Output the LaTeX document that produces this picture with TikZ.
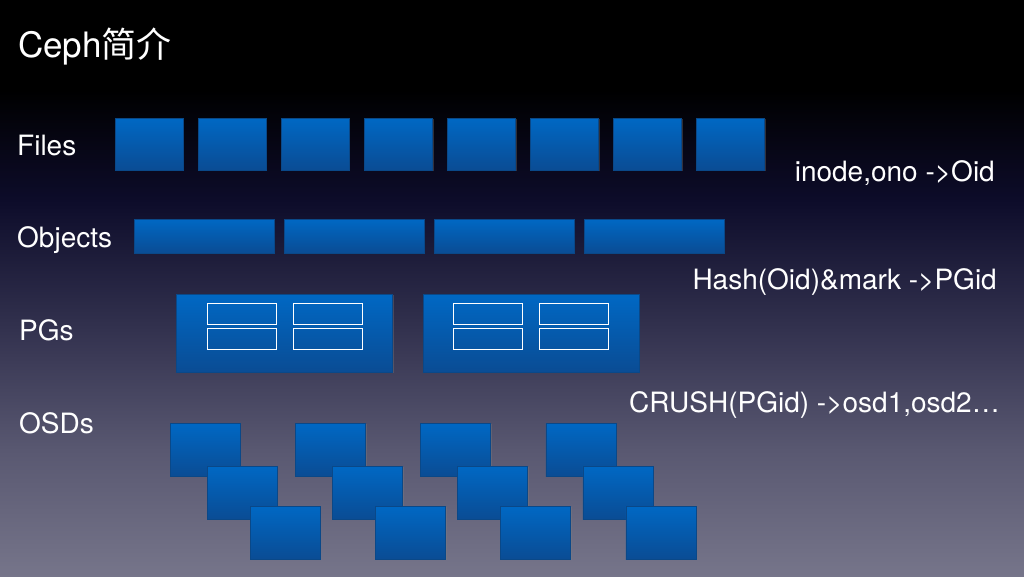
\documentclass[tikz,border=0pt]{standalone}
\usepackage{fontspec}
\setmainfont{TeX Gyre Heros}
\newfontfamily\cjkfont{Noto Sans CJK SC}
\usepackage{tikz}
\usetikzlibrary{shadows}
\definecolor{bgA}{HTML}{000000}
\definecolor{bgB}{HTML}{0D0C2A}
\definecolor{bgC}{HTML}{33324F}
\definecolor{bgD}{HTML}{595871}
\definecolor{bgE}{HTML}{76758A}
\definecolor{blktop}{HTML}{0068C4}
\definecolor{blkbot}{HTML}{0A4C94}
\definecolor{blkline}{HTML}{0A4888}
\tikzset{
  blk/.style    = {rectangle, draw=blkline, line width=0.5pt, top color=blktop, bottom color=blkbot,
                   inner sep=0pt, drop shadow={opacity=0.35, shadow xshift=1.2pt, shadow yshift=-1.2pt}},
  filebox/.style= {blk, minimum width=68pt, minimum height=52pt},
  objbox/.style = {blk, minimum width=140pt, minimum height=34pt},
  pgbox/.style  = {blk, minimum width=216pt, minimum height=78pt},
  pgcell/.style = {rectangle, draw=white, line width=1pt, minimum width=69pt, minimum height=21pt, inner sep=0pt},
  osdbox/.style = {blk, minimum width=70pt, minimum height=53pt},
  lbl/.style    = {text=white, inner sep=0pt, anchor=base west, font=\fontsize{28}{33}\selectfont},
  maplbl/.style = {text=white, inner sep=0pt, anchor=base east, font=\fontsize{28}{33}\selectfont},
}

\begin{document}
\begin{tikzpicture}[x=1pt, y=-1pt]
    \useasboundingbox (0,0) rectangle (1024,576);
    \fill[bgA] (0,0) rectangle (1024,90.5);
    \foreach \ya/\yb/\ca/\cb in {90/200/bgA/bgB, 200/330/bgB/bgC, 330/450/bgC/bgD, 450/576/bgD/bgE}
        {\shade[top color=\ca, bottom color=\cb] (0,\ya) rectangle (1024,\yb+0.5);}

    \node[lbl, font=\fontsize{35}{40}\selectfont] (title) at (18,57) {Ceph{\cjkfont 简介}};
    \node[lbl] (lfiles)   at (17,155) {Files};
    \node[lbl] (lobjects) at (17,247) {Objects};
    \node[lbl] (lpgs)     at (19,340) {PGs};
    \node[lbl] (losds)    at (19,433) {OSDs};
    \node[maplbl] (mfile) at (995,181)  {inode,ono ->Oid};
    \node[maplbl] (mobj)  at (997,289)  {Hash(Oid)\&mark ->PGid};
    \node[maplbl] (mpg)   at (1000,412) {CRUSH(PGid) ->osd1,osd2…};

    \foreach \i in {1,...,8}{\node[filebox] (file\i) at ({149+83.1*(\i-1)},144) {};}
    \foreach \i in {1,...,4}{\node[objbox] (obj\i) at ({204+150*(\i-1)},236) {};}
    \foreach \i/\x in {1/284.5, 2/531}{
        \node[pgbox] (pg\i) at (\x,333) {};
        \foreach \j/\dx/\dy in {1/-43/-19.5, 2/43/-19.5, 3/-43/5.5, 4/43/5.5}
            {\node[pgcell] (pg\i-\j) at ([shift={(\dx,\dy)}]pg\i.center) {};}
    }
    \foreach \r/\dx/\dy in {1/0/0, 2/37/43, 3/80/83}
        \foreach \g in {0,...,3}
            {\node[osdbox] (osd\r-\g) at ({205+125.3*\g+\dx},{449.5+\dy}) {};}
\end{tikzpicture}
\end{document}
